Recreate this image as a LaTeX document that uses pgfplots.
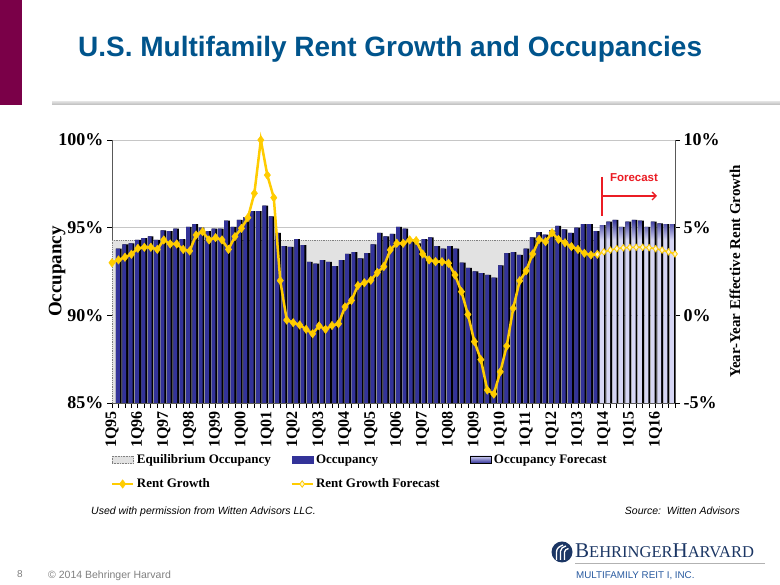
\documentclass[border=0pt]{standalone}
\usepackage{fontspec}
\setmainfont{Liberation Serif}
\newfontfamily\arialf{Liberation Sans}
\usepackage{pgfplots}
\pgfplotsset{compat=1.18}
\usetikzlibrary{arrows.meta}

\definecolor{navy}{RGB}{51,51,153}
\definecolor{lav}{RGB}{214,214,244}
\definecolor{gold}{RGB}{255,204,0}
\definecolor{maroon}{RGB}{122,0,72}
\definecolor{titleblue}{RGB}{0,84,140}
\definecolor{eqgray}{RGB}{226,226,226}
\definecolor{logoblue}{RGB}{27,54,100}
\definecolor{reitblue}{RGB}{40,90,160}
\definecolor{fcred}{RGB}{235,28,36}

% bars start at y=0, so the fade has to sit in the top part of the box
\pgfdeclareverticalshading{fcast}{100bp}{color(0bp)=(lav); color(69.5bp)=(lav); color(75bp)=(navy); color(100bp)=(navy)}

\newcommand{\fs}[1]{\fontsize{#1}{#1}\selectfont}

\begin{document}
\begin{tikzpicture}[x=1pt,y=1pt]
\useasboundingbox (0,0) rectangle (780,585);
\fill[white] (0,0) rectangle (780,585);
\fill[maroon] (0,480) rectangle (22,585);
\shade[top color=gray!25, bottom color=gray!55] (52,480) rectangle (780,483.5);
\node[anchor=base west, inner sep=0, font=\arialf\bfseries\fs{28}, text=titleblue] at (78,528) {U.S. Multifamily Rent Growth and Occupancies};

% occupancy (left axis)
\begin{axis}[
  at={(112pt,182pt)}, anchor=south west,
  scale only axis, width=563pt, height=263pt,
  xmin=-1.07, xmax=87.34, ymin=85, ymax=100,
  axis x line*=bottom, axis y line*=left,
  axis line style={-, draw=gray!70!black, line width=0.8pt},
  xtick=\empty,
  ytick={85,90,95,100}, yticklabels={85\%,90\%,95\%,100\%},
  tick align=outside, major tick length=5pt,
  tick style={draw=black, line width=0.8pt},
  yticklabel style={font=\bfseries\fs{18}},
  ymajorgrids, grid style={draw=gray!45, line width=0.8pt},
  ylabel={\bfseries\fs{19}Occupancy},
  ylabel style={at={(axis description cs:-0.0975,0.5)}, anchor=center},
]
% equilibrium occupancy
\addplot[fill=eqgray, draw=gray, densely dotted, line width=0.8pt] coordinates {(-1.07,94.3) (75.55,94.3)} \closedcycle;
% dark side of every bar
\addplot[ybar, bar width=0.89, bar shift=0, fill=black, draw=none] coordinates {
(0,93.8) (1,94.05) (2,94.1) (3,94.3) (4,94.4) (5,94.5) (6,94.3) (7,94.85) (8,94.8) (9,94.95)
(10,94.35) (11,95.05) (12,95.2) (13,95.0) (14,94.8) (15,94.95) (16,94.95) (17,95.4) (18,95.05) (19,95.45)
(20,95.6) (21,95.95) (22,95.95) (23,96.25) (24,95.65) (25,94.7) (26,93.95) (27,93.9) (28,94.35) (29,94.0)
(30,93.05) (31,92.95) (32,93.15) (33,93.05) (34,92.8) (35,93.15) (36,93.5) (37,93.6) (38,93.25) (39,93.55)
(40,94.05) (41,94.7) (42,94.5) (43,94.65) (44,95.05) (45,94.95) (46,94.3) (47,94.1) (48,94.35) (49,94.45)
(50,93.95) (51,93.8) (52,93.95) (53,93.8) (54,93.0) (55,92.7) (56,92.5) (57,92.4) (58,92.3) (59,92.15)
(60,92.85) (61,93.55) (62,93.6) (63,93.45) (64,93.8) (65,94.45) (66,94.75) (67,94.6) (68,94.85) (69,95.1)
(70,94.9) (71,94.7) (72,95.0) (73,95.2) (74,95.2) (75,94.8)
(76,95.15) (77,95.35) (78,95.45) (79,95.05) (80,95.35) (81,95.45) (82,95.4) (83,95.05) (84,95.35) (85,95.25) (86,95.2) (87,95.2)};
% occupancy
\addplot[ybar, bar width=0.6, bar shift=-0.145, fill=navy, draw=none] coordinates {
(0,93.8) (1,94.05) (2,94.1) (3,94.3) (4,94.4) (5,94.5) (6,94.3) (7,94.85) (8,94.8) (9,94.95)
(10,94.35) (11,95.05) (12,95.2) (13,95.0) (14,94.8) (15,94.95) (16,94.95) (17,95.4) (18,95.05) (19,95.45)
(20,95.6) (21,95.95) (22,95.95) (23,96.25) (24,95.65) (25,94.7) (26,93.95) (27,93.9) (28,94.35) (29,94.0)
(30,93.05) (31,92.95) (32,93.15) (33,93.05) (34,92.8) (35,93.15) (36,93.5) (37,93.6) (38,93.25) (39,93.55)
(40,94.05) (41,94.7) (42,94.5) (43,94.65) (44,95.05) (45,94.95) (46,94.3) (47,94.1) (48,94.35) (49,94.45)
(50,93.95) (51,93.8) (52,93.95) (53,93.8) (54,93.0) (55,92.7) (56,92.5) (57,92.4) (58,92.3) (59,92.15)
(60,92.85) (61,93.55) (62,93.6) (63,93.45) (64,93.8) (65,94.45) (66,94.75) (67,94.6) (68,94.85) (69,95.1)
(70,94.9) (71,94.7) (72,95.0) (73,95.2) (74,95.2) (75,94.8)};
% occupancy forecast
\addplot[ybar, bar width=0.6, bar shift=-0.145, shade, shading=fcast, draw=none] coordinates {
(76,95.15) (77,95.35) (78,95.45) (79,95.05) (80,95.35) (81,95.45) (82,95.4) (83,95.05) (84,95.35) (85,95.25) (86,95.2) (87,95.2)};
\end{axis}

% rent growth (right axis)
\begin{axis}[
  at={(112pt,182pt)}, anchor=south west,
  scale only axis, width=563pt, height=263pt,
  xmin=0, xmax=87, ymin=-5, ymax=10,
  axis x line*=bottom, axis y line*=right,
  axis line style={-, draw=gray!70!black, line width=0.8pt},
  xtick={0,4,...,84},
  xticklabels={1Q95,1Q96,1Q97,1Q98,1Q99,1Q00,1Q01,1Q02,1Q03,1Q04,1Q05,1Q06,1Q07,1Q08,1Q09,1Q10,1Q11,1Q12,1Q13,1Q14,1Q15,1Q16},
  minor xtick={0,...,87},
  tick align=outside, major tick length=5pt, minor tick length=5pt,
  tick style={draw=black, line width=0.8pt},
  xticklabel style={rotate=90, anchor=east, font=\bfseries\fs{16}},
  ytick={-5,0,5,10}, yticklabels={-5\%,0\%,5\%,10\%},
  yticklabel style={font=\bfseries\fs{18}},
  ylabel={\bfseries\fs{15}Year-Year Effective Rent Growth},
  ylabel style={at={(axis description cs:1.1066,0.5)}, anchor=center},
  clip=false,
  legend columns=3,
  legend cell align=left,
  legend style={at={(axis description cs:-0.0023,-0.194)}, anchor=north west,
    draw=none, fill=none, font=\bfseries\fs{13}, inner sep=0pt,
    row sep=14pt, nodes={inner sep=0pt},
    /tikz/every odd column/.append style={column sep=2.5pt}},
]
\addlegendimage{legend image code/.code={\fill[eqgray] (0pt,-3.6pt) rectangle (21pt,3.6pt);
  \draw[gray, densely dotted, line width=0.6pt] (0pt,-3.6pt) rectangle (21pt,3.6pt);}}
\addlegendimage{legend image code/.code={\fill[navy] (0pt,-3.6pt) rectangle (21pt,3.6pt);}}
\addlegendimage{legend image code/.code={\shade[top color=lav, bottom color=navy] (0pt,-3.6pt) rectangle (21pt,3.6pt);}}
% rent growth
\addplot[gold, line width=2.5pt, mark=diamond*, mark size=4.2pt,
  mark options={fill=gold, draw=gold, line width=0.5pt},
  legend image code/.code={\draw[mark repeat=2, mark phase=2] plot coordinates {(0pt,0pt) (10.5pt,0pt) (21pt,0pt)};}]
coordinates {
(0,3.0) (1,3.16) (2,3.31) (3,3.48) (4,3.82) (5,3.88) (6,3.88) (7,3.76) (8,4.3) (9,4.07)
(10,4.07) (11,3.76) (12,3.67) (13,4.58) (14,4.77) (15,4.3) (16,4.43) (17,4.3) (18,3.76) (19,4.49)
(20,4.96) (21,5.57) (22,6.96) (23,10.0) (24,8.0) (25,6.71) (26,1.98) (27,-0.27) (28,-0.42) (29,-0.55)
(30,-0.8) (31,-1.05) (32,-0.6) (33,-0.8) (34,-0.58) (35,-0.48) (36,0.48) (37,0.85) (38,1.7) (39,1.86)
(40,2.0) (41,2.44) (42,2.78) (43,3.73) (44,4.11) (45,4.11) (46,4.3) (47,4.26) (48,3.5) (49,3.16)
(50,3.06) (51,3.06) (52,2.97) (53,2.3) (54,1.35) (55,0.05) (56,-1.5) (57,-2.53) (58,-4.26) (59,-4.49)
(60,-3.22) (61,-1.75) (62,0.4) (63,1.97) (64,2.54) (65,3.5) (66,4.33) (67,4.2) (68,4.71) (69,4.33)
(70,4.14) (71,3.92) (72,3.76) (73,3.54) (74,3.44) (75,3.48)};
% rent growth forecast
\addplot[gold, line width=1.6pt, mark=diamond*, mark size=3.2pt,
  mark options={fill=gold!20, draw=gold, line width=0.8pt},
  legend image code/.code={\draw[mark repeat=2, mark phase=2] plot coordinates {(0pt,0pt) (10.5pt,0pt) (21pt,0pt)};}]
coordinates {
(75,3.48) (76,3.62) (77,3.72) (78,3.8) (79,3.85) (80,3.87) (81,3.88) (82,3.88) (83,3.86) (84,3.8) (85,3.72) (86,3.62) (87,3.5)};
\legend{\makebox[154pt][l]{Equilibrium Occupancy}, \makebox[154pt][l]{Occupancy}, Occupancy Forecast, Rent Growth, Rent Growth Forecast}
\end{axis}

% forecast marker
\draw[fcred, line width=1.3pt] (602,408) -- (602,369);
\draw[fcred, line width=1.3pt, -{Straight Barb[length=4pt,width=8pt]}] (602,389) -- (657,389);
\node[text=fcred, font=\arialf\bfseries\fs{11.5}, anchor=center, inner sep=0] at (634,407) {Forecast};

% notes
\node[anchor=base west, inner sep=0, font=\arialf\itshape\fs{10.5}] at (91,70) {Used with permission from Witten Advisors LLC.};
\node[anchor=base east, inner sep=0, font=\arialf\itshape\fs{10.5}] at (740,70) {Source:\ \ Witten Advisors};
\node[anchor=base west, inner sep=0, font=\arialf\fs{10}, text=gray] at (17,7) {8};
\node[anchor=base west, inner sep=0, font=\arialf\fs{10.5}, text=gray] at (48,6) {\textcopyright{} 2014 Behringer Harvard};

% logo
\fill[logoblue] (562,33) circle (10.5);
\draw[white, line width=1.3pt] (556.5,25) -- (556.5,33) to[out=90,in=200] (563,40);
\draw[white, line width=1.3pt] (560.5,25) -- (560.5,34) to[out=90,in=200] (566,39);
\draw[white, line width=1.3pt] (564.5,25) -- (564.5,33) to[out=90,in=200] (568.5,36.5);
\node[anchor=base west, inner sep=0, text=logoblue, font=\fs{16.5}] at (575,27) {{\fs{21}B}EHRINGER{\fs{21}H}ARVARD};
\draw[gray!60, line width=0.8pt] (575,22) -- (765,22);
\node[anchor=base west, inner sep=0, text=reitblue, font=\arialf\fs{9.8}] at (576,6) {MULTIFAMILY REIT I, INC.};
\end{tikzpicture}
\end{document}
